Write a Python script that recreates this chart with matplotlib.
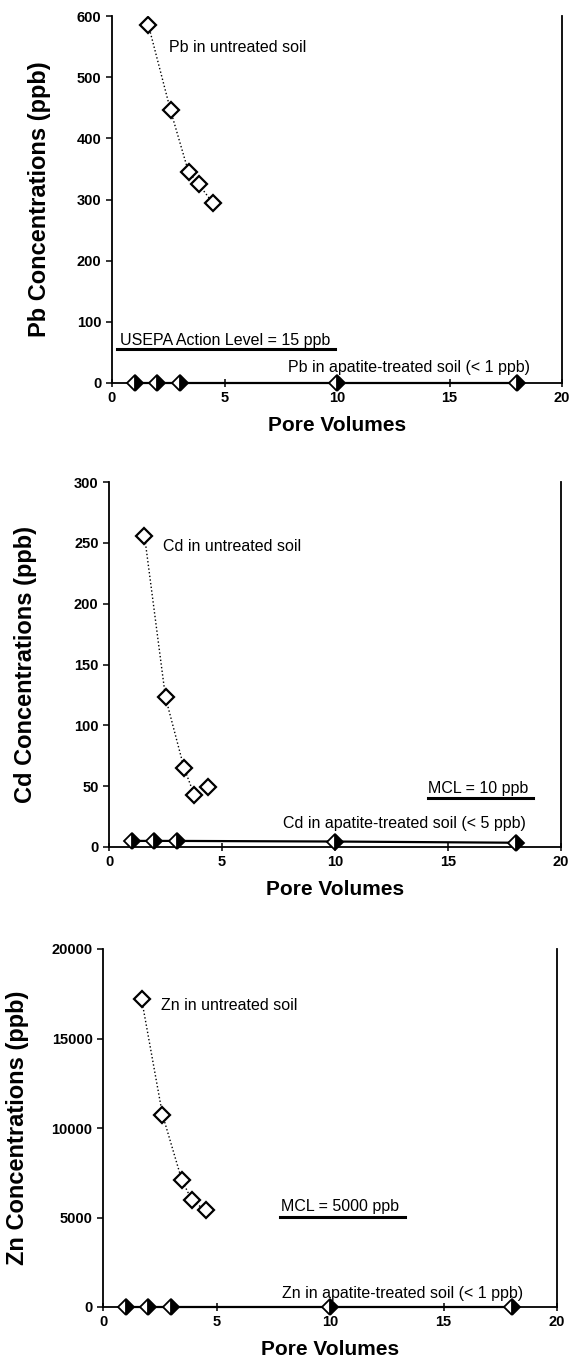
import matplotlib
matplotlib.use("Agg")
import matplotlib.pyplot as plt

plt.rcParams['font.family'] = ['Liberation Sans', 'DejaVu Sans']

# ---------------- data ----------------
treated_x = [1, 2, 3, 10, 18]

pb_untreated_x = [1.62, 2.6, 3.4, 3.85, 4.49]
pb_untreated_y = [585, 446, 345, 325, 294]
pb_treated_y = [0, 0, 0, 0, 0]

cd_untreated_x = [1.57, 2.5, 3.32, 3.77, 4.38]
cd_untreated_y = [256, 123, 65, 43, 49]
cd_treated_y = [5, 5, 5, 4.5, 3.5]

zn_untreated_x = [1.7, 2.62, 3.47, 3.92, 4.52]
zn_untreated_y = [17200, 10750, 7100, 5950, 5400]
zn_treated_y = [0, 0, 0, 0, 0]

x_ticks = [0, 5, 10, 15, 20]
pb_yticks = [0, 100, 200, 300, 400, 500, 600]
cd_yticks = [0, 50, 100, 150, 200, 250, 300]
zn_yticks = [0, 5000, 10000, 15000, 20000]

W, H = 571, 1365
fig = plt.figure(figsize=(W / 100, H / 100), dpi=100)


def make_axes(l, r, t, b):
    return fig.add_axes([l / W, 1 - b / H, (r - l) / W, (b - t) / H])


def style(ax, yticks, ylabel, labx):
    ax.set_xlim(0, 20)
    ax.set_ylim(yticks[0], yticks[-1])
    ax.set_xticks(x_ticks)
    ax.set_yticks(yticks)
    ax.spines['top'].set_visible(False)
    for s in ['left', 'right', 'bottom']:
        ax.spines[s].set_linewidth(1.3)
    ax.tick_params(axis='both', labelsize=10.5, width=1.1, length=4)
    ax.tick_params(axis='x', direction='inout', length=6, pad=3)
    for lab in ax.get_xticklabels() + ax.get_yticklabels():
        lab.set_fontweight('bold')
    ax.set_ylabel(ylabel, fontsize=17, fontweight='bold')
    ax.yaxis.set_label_coords(labx, 0.5)
    ax.set_xlabel('Pore Volumes', fontsize=15, fontweight='bold', labelpad=8)


def plot_series(ax, ux, uy, ty, n_connect):
    ax.plot(ux[:n_connect], uy[:n_connect], linestyle=':', color='black', lw=1.0, zorder=2)
    ax.plot(ux, uy, linestyle='none', marker='D', markersize=8, markerfacecolor='white',
            markeredgecolor='black', markeredgewidth=1.6, zorder=3)
    ax.plot(treated_x, ty, linestyle='-', color='black', lw=1.6, marker='D', markersize=8,
            fillstyle='right', markerfacecolor='black', markerfacecoloralt='white',
            markeredgecolor='black', markeredgewidth=1.3, zorder=4, clip_on=False)


# ---------------- Pb ----------------
ax1 = make_axes(112, 562, 16, 383)
plot_series(ax1, pb_untreated_x, pb_untreated_y, pb_treated_y, 5)
style(ax1, pb_yticks, 'Pb Concentrations (ppb)', -0.136)
ax1.text(2.55, 548, 'Pb in untreated soil', fontsize=11.5, va='center', ha='left')
ax1.text(0.35, 70, 'USEPA Action Level = 15 ppb', fontsize=11.5, va='center', ha='left')
ax1.plot([0.2, 9.9], [55, 55], color='black', lw=2.2)
ax1.text(7.8, 25, 'Pb in apatite-treated soil (< 1 ppb)', fontsize=11.5, va='center', ha='left')

# ---------------- Cd ----------------
ax2 = make_axes(109, 561, 482, 847)
plot_series(ax2, cd_untreated_x, cd_untreated_y, cd_treated_y, 4)
style(ax2, cd_yticks, 'Cd Concentrations (ppb)', -0.16)
ax2.text(2.4, 247, 'Cd in untreated soil', fontsize=11.5, va='center', ha='left')
ax2.text(14.1, 48, 'MCL = 10 ppb', fontsize=11.5, va='center', ha='left')
ax2.plot([14.1, 18.75], [40, 40], color='black', lw=2.2)
ax2.text(7.7, 19, 'Cd in apatite-treated soil (< 5 ppb)', fontsize=11.5, va='center', ha='left')

# ---------------- Zn ----------------
ax3 = make_axes(103, 557, 949, 1307)
plot_series(ax3, zn_untreated_x, zn_untreated_y, zn_treated_y, 5)
style(ax3, zn_yticks, 'Zn Concentrations (ppb)', -0.163)
ax3.text(2.54, 16830, 'Zn in untreated soil', fontsize=11.5, va='center', ha='left')
ax3.text(7.84, 5600, 'MCL = 5000 ppb', fontsize=11.5, va='center', ha='left')
ax3.plot([7.8, 13.3], [5040, 5040], color='black', lw=2.2)
ax3.text(7.9, 780, 'Zn in apatite-treated soil (< 1 ppb)', fontsize=11.5, va='center', ha='left')

fig.savefig('out.png', dpi=100)
